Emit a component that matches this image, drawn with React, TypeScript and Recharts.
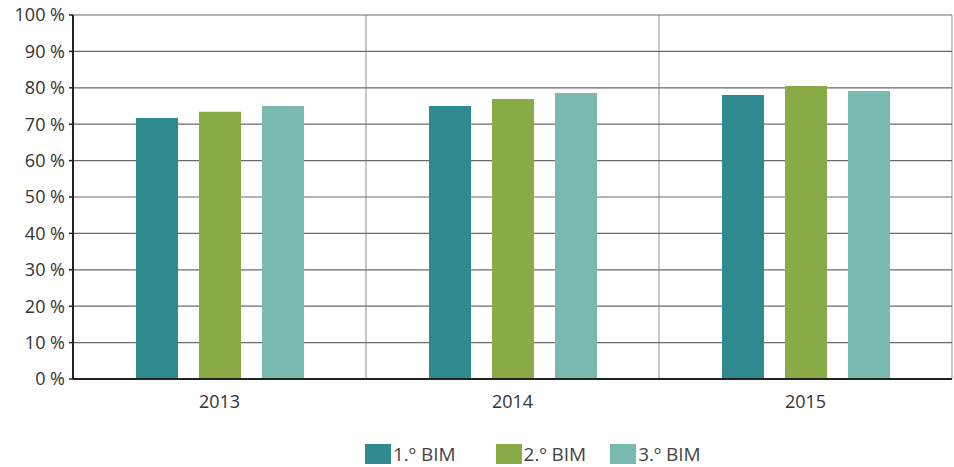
import { BarChart, Bar, XAxis, YAxis, CartesianGrid, Legend } from "recharts";

const years = ["2013", "2014", "2015"];
const bim1 = [71.7, 75.0, 78.0];
const bim2 = [73.4, 76.9, 80.5];
const bim3 = [75.0, 78.6, 79.1];
const yTicks = [0, 10, 20, 30, 40, 50, 60, 70, 80, 90, 100];
const seriesNames = ["1.º BIM", "2.º BIM", "3.º BIM"];
const colors = ["#2F8A8F", "#88AA47", "#79BAB0"];

const data = years.map((y, i) => ({ year: y, b1: bim1[i], b2: bim2[i], b3: bim3[i], idx: i + 0.5 }));

const font = "'Open Sans', sans-serif";

function LegendBox() {
    return (
        <div style={{ display: "flex", marginLeft: 365, fontFamily: font, fontSize: 19, color: "#444", lineHeight: "22px" }}>
            {seriesNames.map((n, i) => (
                <div key={n} style={{ display: "flex", alignItems: "center", marginRight: i === 0 ? 40 : 24 }}>
                    <div style={{ width: 26, height: 20, background: colors[i], marginRight: 2 }} />
                    <span>{n}</span>
                </div>
            ))}
        </div>
    );
}

export default function App() {
    return (
        <div style={{ position: "absolute", left: 0, top: 0, background: "#fff" }}>
            <BarChart
                width={954}
                height={467}
                data={data}
                margin={{ top: 15, right: 2, left: 0, bottom: 0 }}
                barSize={42}
                barGap={21}
            >
                <XAxis xAxisId="grid" type="number" domain={[0, 3]} ticks={[1, 2]} hide dataKey="idx" />
                <CartesianGrid xAxisId="grid" horizontal={false} stroke="#b4b4b4" strokeWidth={1.5} />
                <CartesianGrid vertical={false} stroke="#6a6a6a" strokeWidth={1.2} />
                <XAxis
                    dataKey="year"
                    height={64}
                    tickLine={false}
                    axisLine={{ stroke: "#222", strokeWidth: 2 }}
                    tick={{ fill: "#333", fontSize: 18, fontFamily: font }}
                    tickMargin={10}
                />
                <YAxis
                    width={73}
                    domain={[0, 100]}
                    ticks={yTicks}
                    interval={0}
                    tickFormatter={(v) => `${v} %`}
                    axisLine={{ stroke: "#222", strokeWidth: 2 }}
                    tickLine={{ stroke: "#222", strokeWidth: 1.5 }}
                    tickSize={4}
                    tickMargin={4}
                    tick={{ fill: "#333", fontSize: 18, fontFamily: font }}
                />
                <Bar dataKey="b1" name={seriesNames[0]} fill={colors[0]} isAnimationActive={false} />
                <Bar dataKey="b2" name={seriesNames[1]} fill={colors[1]} isAnimationActive={false} />
                <Bar dataKey="b3" name={seriesNames[2]} fill={colors[2]} isAnimationActive={false} />
                <Legend content={<LegendBox />} verticalAlign="bottom" height={24} wrapperStyle={{ left: 0, width: 954 }} />
            </BarChart>
        </div>
    );
}
